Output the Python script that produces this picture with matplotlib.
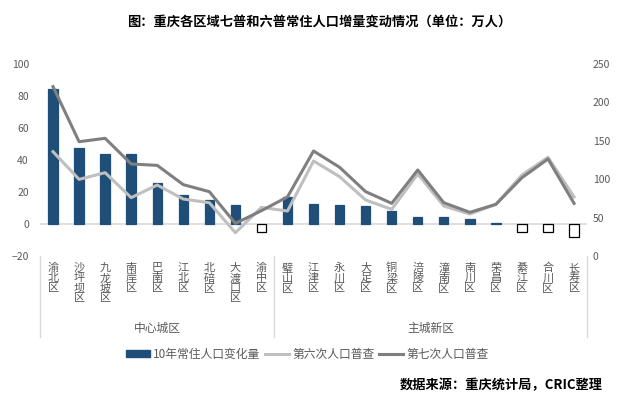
import matplotlib
matplotlib.use("Agg")
import matplotlib.pyplot as plt
import matplotlib.transforms as mtransforms
from matplotlib.patches import Patch
from matplotlib.lines import Line2D

plt.rcParams['font.family'] = ['Noto Sans CJK SC', 'DejaVu Sans']

districts = ["渝北区", "沙坪坝区", "九龙坡区", "南岸区", "巴南区", "江北区", "北碚区", "大渡口区", "渝中区",
             "璧山区", "江津区", "永川区", "大足区", "铜梁区", "涪陵区", "潼南区", "南川区", "荣昌区", "綦江区", "合川区", "长寿区"]
change = [84.4, 47.5, 43.8, 43.8, 25.6, 18.1, 15.0, 11.9, -4.8,
          16.9, 12.5, 11.9, 11.3, 8.1, 4.4, 4.4, 3.1, 0.6, -4.8, -5.2, -8.3]
census6 = [135.8, 99.8, 108.5, 76.0, 92.4, 74.2, 69.4, 30.4, 63.4,
           58.6, 123.7, 103.3, 72.9, 60.8, 106.8, 65.1, 54.7, 67.3, 105.5, 128.5, 77.0]
census7 = [220.5, 148.8, 153.2, 119.8, 118.0, 92.9, 83.8, 42.5, 59.0,
           77.0, 136.7, 115.5, 83.8, 68.6, 112.0, 69.4, 56.9, 67.3, 102.0, 126.3, 68.6]
groups = [("中心城区", 0, 8), ("主城新区", 9, 20)]
left_ticks = [-20, 0, 20, 40, 60, 80, 100]
right_ticks = [0, 50, 100, 150, 200, 250]

fig = plt.figure(figsize=(6.38, 3.97), dpi=100)
ax = fig.add_axes([0.0627, 0.355, 0.8575, 0.484])
ax2 = ax.twinx()

x = list(range(len(districts)))
blue = '#1F4E79'
fc = [blue if v >= 0 else 'white' for v in change]
ec = [blue if v >= 0 else 'black' for v in change]
ax.axhline(0, color='#D9D9D9', linewidth=1.2, zorder=1)
ax.bar(x, change, width=0.36, color=fc, edgecolor=ec, linewidth=0.9, zorder=2)
ax.set_ylim(-20, 100)
ax.set_xlim(-0.5, len(districts) - 0.5)
ax.set_yticks(left_ticks)
ax.set_yticklabels([str(t) if t >= 0 else '−20' for t in left_ticks])
ax.set_xticks(x)
ax.set_xticklabels(['\n'.join(d) for d in districts], fontsize=8, color='#595959', linespacing=1.0)
ax.tick_params(axis='x', length=0, pad=5)
ax.tick_params(axis='y', length=0, labelsize=7.5, labelcolor='#595959', pad=8)

ax2.plot(x, census6, color='#BFBFBF', linewidth=2.2, zorder=3)
ax2.plot(x, census7, color='#7F7F7F', linewidth=2.2, zorder=4)
ax2.set_ylim(0, 250)
ax2.set_yticks(right_ticks)
ax2.tick_params(axis='y', length=0, labelsize=7.5, labelcolor='#595959', pad=4)

for a in (ax, ax2):
    for s in a.spines.values():
        s.set_visible(False)

trans = mtransforms.blended_transform_factory(ax.transData, ax.transAxes)
for xs in [-0.5, 8.5, 20.5]:
    ax.plot([xs, xs], [0, -0.42], transform=trans, color='#D9D9D9', linewidth=1.0, clip_on=False)
for name, a, b in groups:
    ax.text((a + b) / 2, -0.375, name, transform=trans, ha='center', va='center', fontsize=8.5, color='#595959')

handles = [Patch(facecolor=blue, edgecolor=blue),
           Line2D([0], [0], color='#BFBFBF', linewidth=2.2),
           Line2D([0], [0], color='#7F7F7F', linewidth=2.2)]
labels = ['10年常住人口变化量', '第六次人口普查', '第七次人口普查']
leg = fig.legend(handles, labels, loc='center', bbox_to_anchor=(0.482, 0.108), ncol=3, frameon=False,
                 fontsize=8.5, handlelength=2.0, handleheight=0.5, columnspacing=0.4, handletextpad=0.3)
for t in leg.get_texts():
    t.set_color('#595959')

fig.text(0.5, 0.945, '图：重庆各区域七普和六普常住人口增量变动情况（单位：万人）', ha='center', va='center',
         fontsize=9.5, fontweight='bold')
fig.text(0.945, 0.03, '数据来源：重庆统计局，CRIC整理', ha='right', va='center', fontsize=9.5, fontweight='bold')

fig.savefig('out.png', dpi=100)
